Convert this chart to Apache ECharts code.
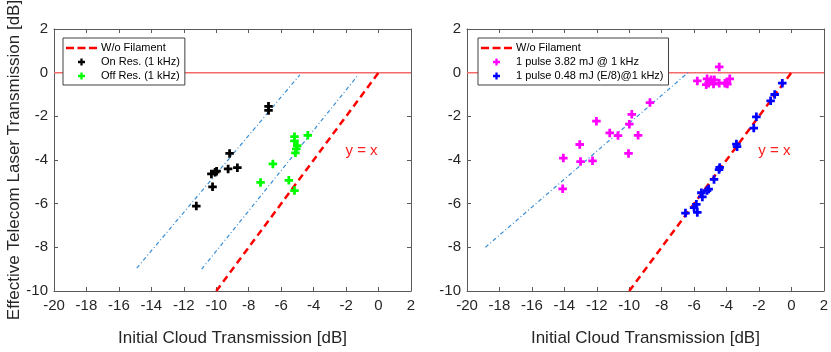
<!DOCTYPE html>
<html>
<head>
<meta charset="utf-8">
<script src="https://cdn.jsdelivr.net/npm/echarts@6/dist/echarts.min.js"></script>
<style>
html, body { margin: 0; padding: 0; background: #fff; }
#main { width: 831px; height: 352px; }
</style>
</head>
<body>
<div id="main"></div>
<script>
// ---- data ----
const xTicksMin = -20, xTicksMax = 2
const yTicksMin = -10, yTicksMax = 2

// left panel
const onResX = [-6.78, -6.78, -9.18, -9.27, -8.70, -10.30, -10.07, -9.98, -10.23, -11.23]
const onResY = [-1.54, -1.73, -3.70, -4.41, -4.35, -4.64, -4.56, -4.51, -5.23, -6.11]
const offResX = [-5.18, -5.18, -5.01, -5.07, -5.12, -4.36, -6.51, -7.27, -5.53, -5.18]
const offResY = [-2.93, -3.12, -3.34, -3.49, -3.67, -2.87, -4.18, -5.03, -4.93, -5.40]
const fitOnX = [-14.9, -4.85]
const fitOnY = [-8.95, -0.1]
const fitOffX = [-10.9, -1.25]
const fitOffY = [-9.0, -0.1]

// right panel
const highEX = [-14.06, -14.10, -13.05, -13.00, -12.26, -12.02, -11.20, -10.69, -9.99, -9.84, -10.04, -9.45, -8.72,
  -5.80, -5.20, -5.25, -5.10, -4.95, -4.80, -4.75, -4.45, -4.45, -4.10, -3.95, -3.80]
const highEY = [-3.91, -5.32, -3.29, -4.07, -4.04, -2.22, -2.76, -2.88, -2.36, -1.91, -3.70, -2.87, -1.37,
  -0.38, -0.28, -0.55, -0.48, -0.33, -0.52, -0.33, -0.48, 0.26, -0.48, -0.52, -0.28]
const lowEX = [-0.56, -1.03, -1.28, -2.16, -2.32, -3.39, -3.35, -4.42, -4.46, -4.77, -5.10, -5.20, -5.55, -5.49, -5.86, -6.00, -5.80, -6.53]
const lowEY = [-0.48, -1.00, -1.29, -2.02, -2.54, -3.27, -3.39, -4.34, -4.44, -4.89, -5.33, -5.40, -5.50, -5.69, -6.03, -6.18, -6.40, -6.43]
const fitHighX = [-18.87, -6.3]
const fitHighY = [-8.0, 0.05]

// shared
const identX = [-10, 0]
const identY = [-10, 0]
const zeroX = [-20, 2]
const zeroY = [0, 0]

const zip = (xs, ys) => xs.map((x, i) => [x, ys[i]])

const FONT = 'Liberation Sans, Arial, sans-serif'
const TEXT = '#262626'
const AXIS = '#5a5a5a'
const FIT = '#3a8ed4'
const PLUS = 'path://M2.7,0H5.3V2.7H8V5.3H5.3V8H2.7V5.3H0V2.7H2.7Z'
// three red dashes for the legend entry of the y = x line
const DASHES = 'path://M0,0H8V2.5H0Z M11.5,0H19.5V2.5H11.5Z M23,0H31V2.5H23Z'

function xAxes (gi) {
  const base = {
    type: 'value',
    gridIndex: gi,
    min: xTicksMin,
    max: xTicksMax,
    interval: 2,
    splitLine: { show: false },
    axisLine: { onZero: false, lineStyle: { color: AXIS, width: 1 } },
    axisTick: { inside: true, length: 4, lineStyle: { color: AXIS } }
  }
  return [
    Object.assign({}, base, {
      position: 'bottom',
      name: 'Initial Cloud Transmission [dB]',
      nameLocation: 'middle',
      nameGap: 39,
      nameTextStyle: { fontFamily: FONT, fontSize: 17, color: TEXT },
      axisLabel: { fontFamily: FONT, fontSize: 15, color: TEXT, margin: 7 }
    }),
    Object.assign({}, base, { position: 'top', axisLabel: { show: false } })
  ]
}

function yAxes (gi, withName) {
  const base = {
    type: 'value',
    gridIndex: gi,
    min: yTicksMin,
    max: yTicksMax,
    interval: 2,
    splitLine: { show: false },
    axisLine: { onZero: false, lineStyle: { color: AXIS, width: 1 } },
    axisTick: { inside: true, length: 4, lineStyle: { color: AXIS } }
  }
  const left = Object.assign({}, base, {
    position: 'left',
    axisLabel: { fontFamily: FONT, fontSize: 15, color: TEXT, margin: 6 }
  })
  if (withName) {
    left.name = 'Effective Telecom Laser Transmission [dB]'
    left.nameLocation = 'middle'
    left.nameGap = 28
    left.nameTextStyle = { fontFamily: FONT, fontSize: 17, color: TEXT }
  }
  return [left, Object.assign({}, base, { position: 'right', axisLabel: { show: false } })]
}

function identity (xi, yi) {
  return {
    name: 'W/o Filament',
    type: 'line',
    xAxisIndex: xi,
    yAxisIndex: yi,
    data: zip(identX, identY),
    symbol: 'none',
    z: 3,
    lineStyle: { color: '#ff0000', width: 2.5, type: [7, 4.5] },
    itemStyle: { color: '#ff0000' },
    markPoint: {
      symbol: 'circle',
      symbolSize: 0,
      label: { show: true, formatter: 'y = x', color: '#ff2020', fontFamily: FONT, fontSize: 15, position: 'inside' },
      data: [{ coord: [-1.05, -3.56] }]
    }
  }
}

function plainLine (xi, yi, xs, ys, color, width, type) {
  return {
    type: 'line',
    xAxisIndex: xi,
    yAxisIndex: yi,
    data: zip(xs, ys),
    symbol: 'none',
    silent: true,
    z: 2,
    lineStyle: { color: color, width: width, type: type }
  }
}

function scatter (name, xi, yi, xs, ys, color) {
  return {
    name: name,
    type: 'scatter',
    xAxisIndex: xi,
    yAxisIndex: yi,
    data: zip(xs, ys),
    symbol: PLUS,
    symbolSize: 8.5,
    z: 4,
    itemStyle: { color: color, opacity: 1 }
  }
}

const legendBase = {
  orient: 'vertical',
  backgroundColor: '#fff',
  borderColor: '#404040',
  borderWidth: 1,
  borderRadius: 0,
  padding: [4, 5, 3, 3],
  itemWidth: 31,
  itemHeight: 7,
  itemGap: 2,
  symbolKeepAspect: true,
  textStyle: { fontFamily: FONT, fontSize: 11, color: '#000', lineHeight: 12, padding: [0, 0, 0, -1] },
  selectedMode: false
}

const myChart = echarts.init(document.getElementById('main'), null, { renderer: 'canvas' })
const option = {
  animation: false,
  backgroundColor: '#fff',
  grid: [
    { left: 54, top: 29, width: 357, height: 272 },
    { left: 467, top: 29, width: 357, height: 272 }
  ],
  xAxis: xAxes(0).concat(xAxes(1)),
  yAxis: yAxes(0, true).concat(yAxes(1, false)),
  legend: [
    Object.assign({}, legendBase, {
      left: 63,
      top: 38,
      data: [{ name: 'W/o Filament', icon: DASHES }, 'On Res. (1 kHz)', 'Off Res. (1 kHz)']
    }),
    Object.assign({}, legendBase, {
      left: 478,
      top: 38,
      data: [{ name: 'W/o Filament', icon: DASHES }, '1 pulse 3.82 mJ @ 1 kHz', '1 pulse 0.48 mJ (E/8)@1 kHz)']
    })
  ],
  series: [
    // left
    plainLine(0, 0, zeroX, zeroY, '#f46a6a', 1.5, 'solid'),
    plainLine(0, 0, fitOnX, fitOnY, FIT, 1.2, [4, 2.5, 1, 2.5]),
    plainLine(0, 0, fitOffX, fitOffY, FIT, 1.2, [4, 2.5, 1, 2.5]),
    identity(0, 0),
    scatter('On Res. (1 kHz)', 0, 0, onResX, onResY, '#000000'),
    scatter('Off Res. (1 kHz)', 0, 0, offResX, offResY, '#00ff00'),
    // right
    plainLine(2, 2, zeroX, zeroY, '#f46a6a', 1.5, 'solid'),
    plainLine(2, 2, fitHighX, fitHighY, FIT, 1.2, [4, 2.5, 1, 2.5]),
    identity(2, 2),
    scatter('1 pulse 3.82 mJ @ 1 kHz', 2, 2, highEX, highEY, '#ff00ff'),
    scatter('1 pulse 0.48 mJ (E/8)@1 kHz)', 2, 2, lowEX, lowEY, '#0000ff')
  ]
}
myChart.setOption(option)
</script>
</body>
</html>
